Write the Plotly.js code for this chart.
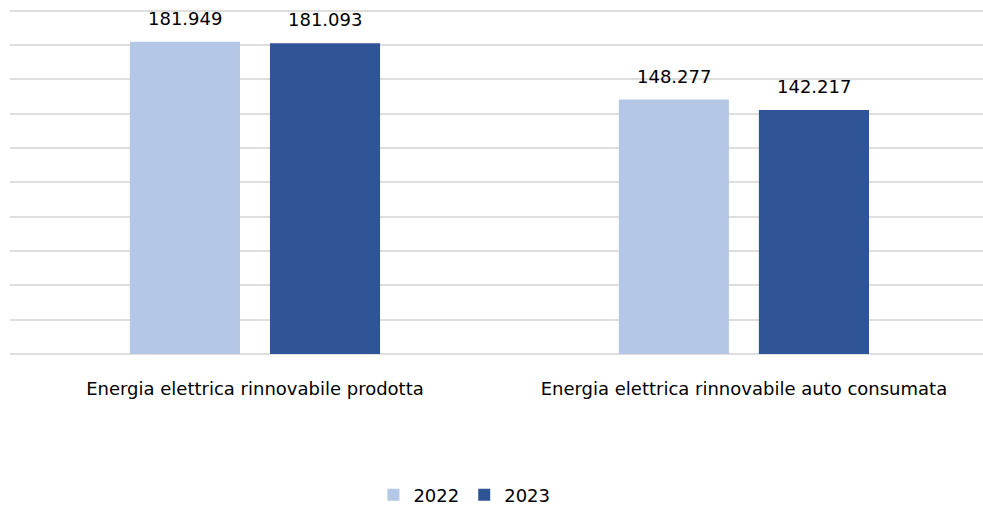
<!DOCTYPE html>
<html>
<head>
<meta charset="utf-8">
<script src="https://cdn.plot.ly/plotly-3.0.1.min.js"></script>
<style>html,body{margin:0;padding:0;background:#fff}#chart{width:983px;height:514px}</style>
</head>
<body>
<div id="chart"></div>
<script>
const categories = ["Energia elettrica rinnovabile prodotta", "Energia elettrica rinnovabile auto consumata"];
const years = ["2022", "2023"];
const values2022 = [181949, 148277];
const values2023 = [181093, 142217];
const colors = ["#b4c7e7", "#2f5597"];

const seriesValues = [values2022, values2023];
const FONT = "'DejaVu Sans', sans-serif";

const traces = years.map((yr, i) => ({
  type: "bar",
  name: yr,
  x: [0, 1],
  y: seriesValues[i],
  marker: {color: colors[i]},
  hoverinfo: "skip"
}));

const fmt = v => v.toString().replace(/\B(?=(\d{3})+(?!\d))/g, ".");
const annotations = [];
seriesValues.forEach((vals, i) => {
  vals.forEach((v, j) => {
    annotations.push({
      x: j, y: v, xref: "x", yref: "y",
      xshift: i === 0 ? -70 : 70,
      yshift: 11,
      text: fmt(v), showarrow: false,
      yanchor: "bottom",
      font: {family: FONT, size: 18, color: "#000"}
    });
  });
});

const layout = {
  width: 983, height: 514,
  margin: {l: 10, r: 0, t: 4, b: 158},
  paper_bgcolor: "#fff", plot_bgcolor: "#fff",
  barmode: "group",
  bargap: 0.427,
  bargroupgap: 0.214,
  separators: ",.",
  showlegend: true,
  legend: {
    orientation: "h", x: 0.467, xanchor: "center", y: -0.403, yanchor: "middle",
    font: {family: FONT, size: 18, color: "#000"},
    itemwidth: 30, traceorder: "normal"
  },
  xaxis: {
    range: [-0.501, 1.489], automargin: false,
    tickvals: [0, 1], ticktext: categories,
    showgrid: false, zeroline: false, showline: false,
    ticks: "", ticklen: 0, ticklabelstandoff: 22,
    tickfont: {family: FONT, size: 18, color: "#000"}
  },
  yaxis: {
    range: [0, 204000], dtick: 20000, automargin: false,
    showticklabels: false, ticks: "",
    showgrid: true, gridcolor: "#dedede", gridwidth: 2,
    zeroline: true, zerolinecolor: "#dedede", zerolinewidth: 2,
    showline: false
  },
  annotations: annotations
};

Plotly.newPlot("chart", traces, layout, {displayModeBar: false, staticPlot: true});
</script>
</body>
</html>
